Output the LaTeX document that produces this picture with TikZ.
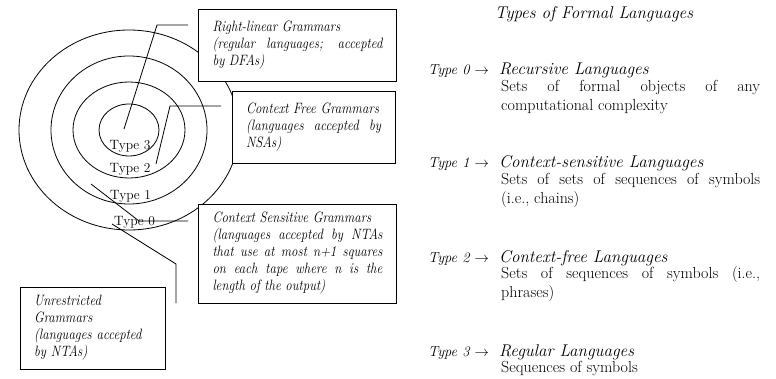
\documentclass[tikz,border=0pt]{standalone}
\usepackage{amsmath}
\usepackage{fontspec}
\usepackage{tikz}
\usetikzlibrary{positioning}
\newfontfamily\boxfont{Latin Modern Roman}[FakeStretch=0.86]
\newcommand\boxtext{\boxfont\fontsize{15}{17}\selectfont\itshape\hyphenpenalty=10000\relax}
\tikzset{
    gram-box/.style = {draw=black, fill=white, line width=0.9pt, rectangle, inner xsep=14pt, inner ysep=0pt, align=justify, font=\boxtext},
    type-label/.style = {inner sep=0pt, font=\fontsize{13.5}{16}\selectfont},
    lang-head/.style = {inner sep=0pt, font=\fontsize{17}{19}\selectfont\itshape},
    lang-text/.style = {inner sep=0pt, text width=259pt, align=justify, font=\fontsize{16}{19}\selectfont},
    pointer/.style = {draw=black, line width=0.8pt},
}

\begin{document}
\begin{tikzpicture}[x=1pt, y=-1pt]
\useasboundingbox (0,0) rectangle (776,379);
\foreach \rx/\ry in {110/100, 78/74, 56/48, 30/26}
    \draw[line width=0.8pt] (129,130) ellipse [x radius=\rx pt, y radius=\ry pt];

\node[type-label] (type-3) at (130,146) {Type 3};
\node[type-label] (type-2) at (130,169.5) {Type 2};
\node[type-label] (type-1) at (130.5,196) {Type 1};
\node[type-label] (type-0) at (134.5,222) {Type 0};

\coordinate (rl-tip) at (124,129);
\coordinate (rl-bend) at (157,25);
\coordinate (rl-end) at (188,25);
\coordinate (cf-tip) at (156,164);
\coordinate (cf-bend) at (170,106);
\coordinate (cf-end) at (221,106);
\coordinate (cs-tip) at (91,184);
\coordinate (cs-bend) at (139,221);
\coordinate (cs-end) at (188,221);
\coordinate (un-tip) at (112,224);
\coordinate (un-bend) at (176,264);
\coordinate (un-end) at (176,303);
\draw[pointer] (rl-tip) -- (rl-bend) -- (rl-end);
\draw[pointer] (cf-tip) -- (cf-bend) -- (cf-end);
\draw[pointer] (cs-tip) -- (cs-bend) -- (cs-end);
\draw[pointer] (un-tip) -- (un-bend) -- (un-end);

\node[gram-box, text width=170pt, minimum height=72pt] (right-linear) at (297.5,45) {Right-linear Grammars\\ (regular languages; accepted\linebreak by DFAs)};
\node[gram-box, text width=135pt, minimum height=72pt] (context-free) at (313.5,127) {Context Free Grammars\\ (languages accepted by\linebreak NSAs)};
\node[gram-box, text width=170pt, minimum height=99pt] (context-sens) at (297.5,253.5) {Context Sensitive Grammars\\ (languages accepted by NTAs\linebreak that use at most n+1 squares\linebreak on each tape where n is the\linebreak length of the output)};
\node[gram-box, text width=117pt, minimum height=82pt, align=left] (unrestricted) at (92.5,328) {Unrestricted\\ Grammars\\ (languages accepted\\ by NTAs)};

\node[lang-head, anchor=base] (title) at (594,19) {Types of Formal Languages};

\node[lang-head, anchor=base west, font=\fontsize{14.5}{19}\selectfont\itshape] (head-0) at (428,75) {Type 0 $\rightarrow$};
\node[lang-head, anchor=base west] (name-0) at (499,75) {Recursive Languages};
\node[lang-text, below right=1pt and 2pt of name-0.south west] (desc-0) {Sets of formal objects of any\linebreak computational complexity};

\node[lang-head, anchor=base west, font=\fontsize{14.5}{19}\selectfont\itshape] (head-1) at (428,168) {Type 1 $\rightarrow$};
\node[lang-head, anchor=base west] (name-1) at (499,168) {Context-sensitive Languages};
\node[lang-text, below right=1pt and 2pt of name-1.south west] (desc-1) {Sets of sets of sequences of symbols\linebreak (i.e., chains)};

\node[lang-head, anchor=base west, font=\fontsize{14.5}{19}\selectfont\itshape] (head-2) at (428,262) {Type 2 $\rightarrow$};
\node[lang-head, anchor=base west] (name-2) at (499,262) {Context-free Languages};
\node[lang-text, below right=1pt and 2pt of name-2.south west] (desc-2) {Sets of sequences of symbols (i.e.,\linebreak phrases)};

\node[lang-head, anchor=base west, font=\fontsize{14.5}{19}\selectfont\itshape] (head-3) at (428,356) {Type 3 $\rightarrow$};
\node[lang-head, anchor=base west] (name-3) at (499,356) {Regular Languages};
\node[lang-text, below right=1pt and 2pt of name-3.south west] (desc-3) {Sequences of symbols};
\end{tikzpicture}
\end{document}
